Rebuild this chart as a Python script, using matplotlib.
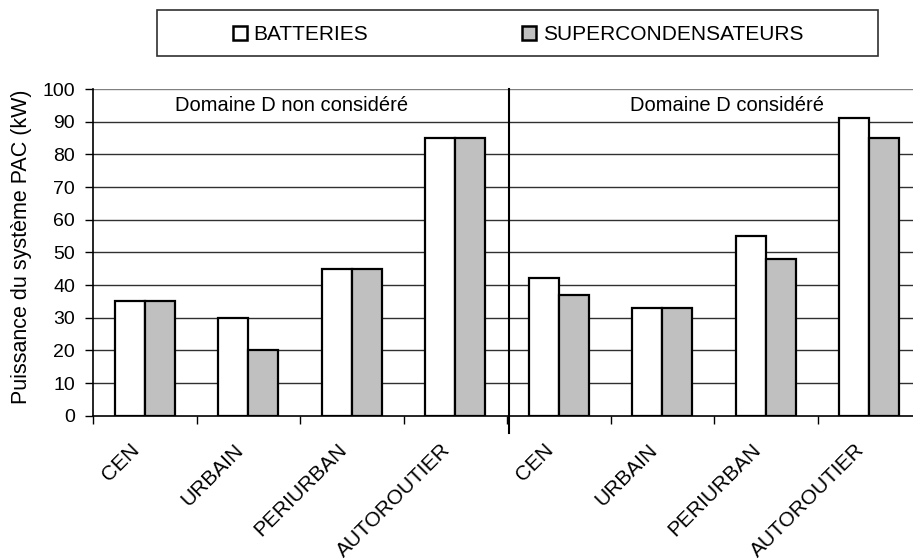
import matplotlib
matplotlib.use("Agg")
import matplotlib.pyplot as plt
from matplotlib.patches import Rectangle
import numpy as np

plt.rcParams['font.family'] = ['Liberation Sans', 'DejaVu Sans']

categories = ["CEN", "URBAIN", "PERIURBAN", "AUTOROUTIER",
              "CEN", "URBAIN", "PERIURBAN", "AUTOROUTIER"]
batteries = [35, 30, 45, 85, 42, 33, 55, 91]
supercondensateurs = [35, 20, 45, 85, 37, 33, 48, 85]
series_labels = ["BATTERIES", "SUPERCONDENSATEURS"]
series_colors = ["white", "#c0c0c0"]
domain_labels = ["Domaine D non considéré", "Domaine D considéré"]
ylabel = "Puissance du système PAC (kW)"
yticks = [0, 10, 20, 30, 40, 50, 60, 70, 80, 90, 100]

W, H = 913, 560
fig = plt.figure(figsize=(W / 100, H / 100), dpi=100)

def fx(px):
    return px / W

def fy(py):
    return 1 - py / H

ax_left, ax_right, ax_top, ax_bot = 93, 921, 89, 415.7
ax = fig.add_axes([fx(ax_left), fy(ax_bot), (ax_right - ax_left) / W, (ax_bot - ax_top) / H])

x = np.arange(len(categories))
bw = 0.29
ax.bar(x - bw / 2, batteries, width=bw, color=series_colors[0], edgecolor="black",
       linewidth=1.6, zorder=3)
ax.bar(x + bw / 2, supercondensateurs, width=bw, color=series_colors[1], edgecolor="black",
       linewidth=1.6, zorder=3)

ax.set_xlim(-0.5, len(categories) - 0.5)
ax.set_ylim(0, 100)
ax.set_yticks(yticks)
ax.set_yticklabels([str(v) for v in yticks], fontsize=14)
for v in yticks[1:]:
    ax.axhline(v, color="#808080" if v == 100 else "#303030", lw=1.0, zorder=1)

ax.set_xticks(np.arange(-0.5, len(categories), 1.0))
ax.set_xticklabels([])
ax.tick_params(axis="x", direction="out", length=6, width=1, color="black")
ax.tick_params(axis="y", direction="out", length=6, width=1, color="black", pad=7)

for s in ["top", "right"]:
    ax.spines[s].set_visible(False)
ax.spines["left"].set_linewidth(1.2)
ax.spines["bottom"].set_linewidth(1.2)

# divider between the two domains
ax.plot([3.52, 3.52], [-5.3, 100], color="black", lw=1.5, clip_on=False, zorder=4)

# domain labels
ax.text(1.42, 94.8, domain_labels[0], ha="center", va="center", fontsize=14.5, zorder=5)
ax.text(5.63, 94.8, domain_labels[1], ha="center", va="center", fontsize=14.5, zorder=5)

# category labels (rotated)
for i, lab in enumerate(categories):
    ax.annotate(lab, xy=(i, 0), xycoords=("data", "axes fraction"),
                xytext=(-10.5, -17.5), textcoords="offset points",
                rotation=45, rotation_mode="anchor", ha="right", va="top",
                fontsize=15, annotation_clip=False)

fig.text(fx(22), fy(247), ylabel, rotation=90, ha="center", va="center", fontsize=15.5)

# legend
fig.add_artist(Rectangle((fx(157), fy(56)), fx(878) - fx(157), fy(10) - fy(56),
                         transform=fig.transFigure, facecolor="white",
                         edgecolor="#303030", lw=1.2))
sq_x = [233, 522]
tx_x = [253, 543]
for lab, col, sx, tx in zip(series_labels, series_colors, sq_x, tx_x):
    fig.add_artist(Rectangle((fx(sx), fy(40)), 14 / W, 14 / H, transform=fig.transFigure,
                             facecolor=col, edgecolor="black", lw=1.8))
    fig.text(fx(tx), fy(40), lab, ha="left", va="baseline", fontsize=15)

fig.savefig("out.png", dpi=100)
